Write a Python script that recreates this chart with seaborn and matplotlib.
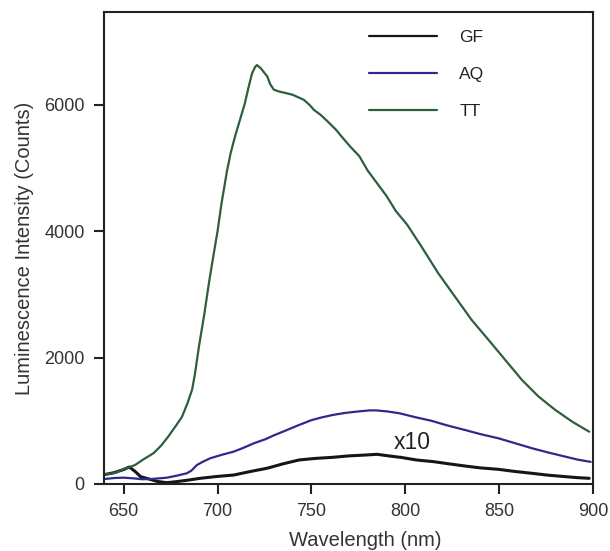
import seaborn as sns
import pandas as pd
import matplotlib.pyplot as plt

# spectra (wavelength nm, counts)
tt_x = [640, 645, 650, 653, 656, 660, 666, 670, 673.6, 678, 681, 684, 686.5, 688, 690, 693, 695.5, 698, 700, 702,
        705, 707, 709.5, 712, 714.5, 716.6, 718.4, 720, 721, 723, 726.5, 728, 730, 733, 736, 740, 743, 746, 749,
        751.4, 755, 758.6, 763, 767.5, 771, 775.5, 780, 785, 790, 795, 801, 808.6, 817.6, 826.5, 835.4, 844.4,
        853.3, 862.2, 871.1, 880, 889, 895, 898]
tt_y = [150, 175, 235, 265, 300, 380, 490, 610, 745, 930, 1060, 1280, 1500, 1750, 2160, 2700, 3200, 3650, 4000, 4420,
        4950, 5240, 5520, 5770, 6020, 6290, 6500, 6600, 6630, 6580, 6450, 6330, 6240, 6210, 6190, 6160, 6120, 6080, 6000,
        5920, 5840, 5740, 5610, 5450, 5330, 5190, 4960, 4760, 4560, 4320, 4105, 3760, 3335, 2965, 2596, 2280,
        1963, 1646, 1382, 1171, 986, 880, 828]

aq_x = [640, 645, 650, 655, 660, 665, 673, 678, 683.6, 686, 689, 692, 696, 702, 708.6, 714, 719.3, 725.6, 730, 735,
        743.4, 750, 755, 761.3, 768, 775.5, 781, 784.5, 790, 797, 805, 814, 822, 831.8, 840, 849.7, 858, 867.6,
        876, 885.4, 892, 898.8]
aq_y = [80, 95, 100, 90, 75, 80, 100, 130, 169, 210, 300, 350, 406, 460, 512, 575, 644, 710, 770, 830,
        934, 1010, 1050, 1092, 1125, 1150, 1165, 1165, 1150, 1119, 1060, 1000, 930, 855, 790, 723, 650, 565,
        500, 432, 385, 350]

gf_x = [640, 645, 650, 653, 656, 659, 664, 668, 673, 678, 684, 690.7, 700, 708.6, 717, 726.5, 735, 743.4, 752,
        761.3, 770, 779, 785, 791.6, 798, 806, 815, 823, 831.8, 840, 849.7, 858, 867.6, 876, 885.4, 892, 898]
gf_y = [150, 180, 230, 269, 200, 116, 74, 40, 21, 37, 60, 90, 120, 142, 195, 250, 320, 380, 405,
        422, 445, 459, 470, 443, 420, 380, 354, 320, 285, 255, 232, 200, 169, 140, 116, 100, 90]

series = ['GF', 'AQ', 'TT']
colors = {'GF': '#151515', 'AQ': '#2e2a8c', 'TT': '#2f5e3c'}

df = pd.concat([
    pd.DataFrame({'wl': gf_x, 'counts': gf_y, 'sample': 'GF'}),
    pd.DataFrame({'wl': aq_x, 'counts': aq_y, 'sample': 'AQ'}),
    pd.DataFrame({'wl': tt_x, 'counts': tt_y, 'sample': 'TT'}),
])

sns.set_style('ticks')
plt.rcParams['font.family'] = ['Liberation Sans', 'DejaVu Sans']

fig = plt.figure(figsize=(6.1, 5.51), dpi=100)
ax = fig.add_axes([0.1705, 0.1216, 0.8015, 0.8566])
sns.lineplot(data=df, x='wl', y='counts', hue='sample', hue_order=series, palette=colors,
             sort=False, estimator=None, linewidth=1.6, ax=ax)

ax.set_xlim(639.5, 900)
ax.set_ylim(0, 7470)
ax.set_xticks([650, 700, 750, 800, 850, 900])
ax.set_yticks([0, 2000, 4000, 6000])
for s in ax.spines.values():
    s.set_linewidth(1.5)
    s.set_color('#222222')
ax.tick_params(direction='out', length=7.5, width=1.5, pad=6.5, labelsize=13,
               colors='#222222', labelcolor='#333333')
ax.set_xlabel('Wavelength (nm)', fontsize=14.5, color='#333333')
ax.xaxis.label.set_va('center')
ax.xaxis.set_label_coords(0.534, -0.119)
ax.set_ylabel('Luminescence Intensity (Counts)', fontsize=14.5, color='#333333', labelpad=7)

ax.text(803.8, 657, 'x10', fontsize=16.5, color='#222222', ha='center', va='center')

leg = ax.legend(loc='upper left', bbox_to_anchor=(0.51, 0.995), frameon=False, fontsize=12.5,
                handlelength=3.9, handletextpad=1.3, labelspacing=1.25)
for t in leg.get_texts():
    t.set_color('#222222')

# GF trace is a noisy band in the original, draw it a bit heavier (not in legend)
for ln in ax.lines:
    if ln.get_color() == colors['GF']:
        ln.set_linewidth(2.2)

fig.savefig('out.png', dpi=100)
